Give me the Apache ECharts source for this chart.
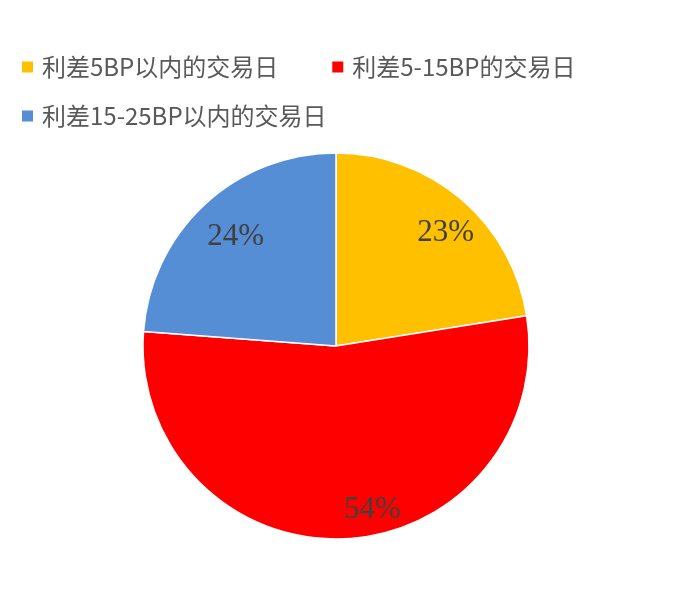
<!DOCTYPE html>
<html><head><meta charset="utf-8">
<script src="https://cdn.jsdelivr.net/npm/echarts@6/dist/echarts.min.js"></script>
<style>html,body{margin:0;padding:0;background:#fff}#c{width:700px;height:611px}</style>
</head><body><div id="c"></div>
<script>
const categories = ['利差5BP以内的交易日', '利差5-15BP的交易日', '利差15-25BP以内的交易日'];
const values = [22.5, 53.7, 23.8];
const colors = ['#FFC000', '#FF0000', '#558ED5'];
const labelTexts = ['23%', '54%', '24%'];
const labelOffsets = [[7, 7], [30, 6], [7, 7]];

const chart = echarts.init(document.getElementById('c'));
const legendText = { fontSize: 24, color: '#595959', fontFamily: 'Noto Sans CJK SC', padding: [0, 0, 0, 3] };
const data = categories.map((n, i) => ({ name: n, value: values[i], itemStyle: { color: colors[i] } }));
chart.setOption({
  animation: false,
  backgroundColor: '#fff',
  legend: [
    { data: categories.slice(0, 2), left: 15, top: 50, itemWidth: 13, itemHeight: 13, itemGap: 52, icon: 'rect', textStyle: legendText, selectedMode: false },
    { data: categories.slice(2), left: 15, top: 99, itemWidth: 13, itemHeight: 13, icon: 'rect', textStyle: legendText, selectedMode: false }
  ],
  series: [
    {
      type: 'pie', center: [336, 346], radius: [0, 193], startAngle: 90, clockwise: true,
      data: data, label: { show: false }, labelLine: { show: false },
      itemStyle: { borderColor: '#fff', borderWidth: 1.5 }, silent: true
    },
    {
      type: 'pie', center: [336, 346], radius: [120, 190], startAngle: 90, clockwise: true,
      data: categories.map((n, i) => ({
        name: n, value: values[i],
        label: { offset: labelOffsets[i] }
      })),
      itemStyle: { color: 'rgba(0,0,0,0)' },
      label: {
        show: true, position: 'inside',
        formatter: p => labelTexts[p.dataIndex],
        fontSize: 31, color: '#404040', fontFamily: 'Liberation Serif'
      },
      labelLine: { show: false }, silent: true, legendHoverLink: false
    }
  ]
});
</script></body></html>
